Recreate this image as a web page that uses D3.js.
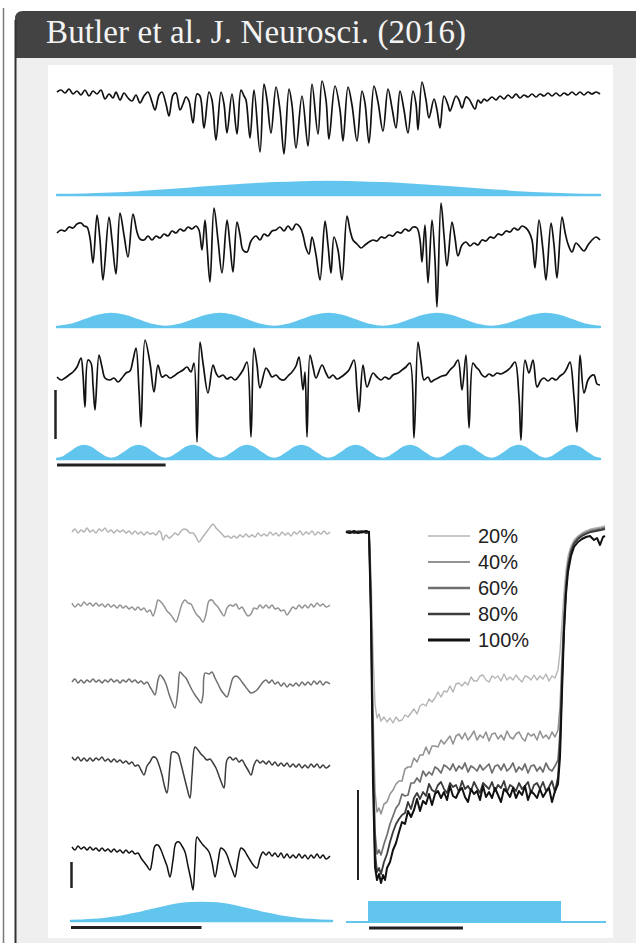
<!DOCTYPE html>
<html lang="en">
<head>
<meta charset="UTF-8">
<title>Butler et al. J. Neurosci. (2016)</title>
<script src="https://cdn.jsdelivr.net/npm/d3@7"></script>
<style>
  body { margin: 0; background: #fff; }
  svg { display: block; }
</style>
</head>
<body>
<div id="chart"></div>
<script>
// ---------- data ----------
// top rows: t in samples (54.3 per second, 10 s shown), v in units of 10 uV (up = positive)
const trace1 = [[0,3],[4,5],[8,2],[12,6],[16,1],[20,4],[24,0],[28,5],[32,-1],[36,4],[40,1],[44,5],[48,-4],[52,1],[56,-3],[59,3],[63,-5],[67,2],[71,-3],[75,-6],[79,0],[83,-8],[87,-1],[91,3],[95,-7],[98,-15],[102,0],[105,3],[109,-9],[112,-21],[116,0],[119,2],[123,-15],[126,-9],[129,-2],[132,-6],[136,-28],[140,1],[143,-1],[147,-33],[152,3],[155,-5],[159,-45],[164,3],[167,-9],[170,-38],[175,1],[180,-39],[184,5],[187,-1],[189,-5],[193,-43],[197,5],[203,-57],[207,11],[210,-5],[214,-38],[219,8],[223,-15],[227,-59],[232,6],[235,-10],[239,-53],[245,-1],[251,-51],[255,11],[261,-39],[265,14],[269,-5],[272,-44],[278,9],[283,-15],[286,-46],[291,8],[295,-10],[300,-46],[305,4],[308,-8],[312,-48],[317,9],[321,-7],[326,-36],[331,6],[335,-13],[339,-33],[343,4],[347,-15],[351,-38],[356,4],[359,-9],[361,-35],[365,13],[369,-5],[372,-23],[377,-4],[380,-15],[383,-33],[387,-1],[391,-10],[393,-16],[399,-1],[402,-5],[405,-13],[409,-2],[412,-4],[418,-14],[421,-5],[424,-8],[427,-4],[430,-6],[435,-2],[439,-5],[443,-1],[447,-4],[451,0],[455,-3],[459,1],[463,-3],[467,0],[471,-2],[475,1],[479,-2],[483,1],[487,-1],[491,2],[495,-1],[499,2],[503,-1],[507,2],[511,0],[515,3],[519,0],[523,3],[527,0],[531,3],[535,1],[539,3],[543,1]];

const trace2 = [[0,-1],[4,2],[8,1],[12,5],[16,4],[20,8],[24,9],[27,6],[30,5],[33,-6],[36,-31],[40,17],[43,-8],[46,-48],[52,15],[55,-8],[59,-42],[63,19],[67,-3],[71,-25],[76,18],[80,0],[83,-7],[87,-8],[91,-4],[95,-8],[99,-4],[103,-6],[107,-2],[111,-4],[115,1],[119,-1],[123,3],[127,1],[131,5],[135,3],[139,6],[142,2],[145,-18],[148,12],[150,-13],[153,-50],[157,24],[161,-8],[165,-41],[170,12],[173,-13],[176,-40],[180,10],[183,-3],[186,-18],[190,-20],[194,-9],[199,-4],[203,-8],[207,-2],[211,-4],[215,1],[219,2],[223,5],[227,1],[231,6],[235,2],[239,8],[243,5],[246,-3],[249,-16],[252,-22],[255,-5],[259,-23],[263,-48],[268,11],[271,-13],[274,-41],[277,-5],[281,-18],[285,-48],[290,16],[293,2],[296,-8],[300,-12],[304,-16],[308,-13],[312,-10],[316,-8],[320,-9],[324,-5],[328,-6],[332,-3],[336,-4],[340,0],[344,-1],[348,3],[352,1],[356,5],[360,4],[363,-8],[365,-30],[368,7],[371,-51],[375,12],[378,-28],[380,-75],[384,29],[387,-3],[390,-34],[395,10],[398,-6],[401,-24],[405,-13],[409,-10],[413,-14],[417,-11],[421,-13],[425,-8],[429,-9],[433,-5],[437,-6],[441,-2],[445,-3],[449,1],[453,0],[457,4],[461,2],[465,6],[469,4],[472,0],[475,-8],[478,-36],[482,12],[486,-18],[489,-48],[494,9],[497,-13],[500,-46],[505,15],[508,0],[511,-12],[515,-20],[519,-11],[523,-15],[527,-19],[531,-13],[535,-8],[539,-5],[543,-8]];

const trace3 = [[0,1],[4,-2],[8,0],[12,3],[16,6],[20,11],[24,20],[26,3],[28,-29],[31,18],[34,15],[36,-7],[38,-32],[42,23],[45,11],[48,0],[53,-2],[57,0],[61,-4],[65,0],[69,5],[73,7],[76,18],[79,30],[82,-12],[84,-49],[88,38],[93,15],[97,-14],[101,13],[105,1],[109,3],[113,0],[117,2],[121,5],[126,8],[130,11],[134,6],[137,15],[140,-64],[143,36],[146,15],[151,-15],[156,13],[159,5],[162,1],[166,3],[170,-1],[174,1],[178,-2],[182,2],[186,8],[190,16],[194,-59],[197,30],[200,13],[203,-10],[209,10],[212,6],[215,1],[219,3],[223,-1],[227,-2],[231,2],[235,6],[239,12],[242,21],[246,-12],[248,6],[250,-59],[253,23],[256,11],[259,0],[265,13],[269,5],[272,0],[276,3],[280,-1],[284,1],[288,4],[292,8],[297,18],[300,-12],[302,-34],[306,13],[310,-9],[316,5],[320,1],[324,-2],[328,1],[332,-1],[336,3],[341,5],[345,8],[349,11],[353,15],[357,-60],[361,36],[364,16],[367,-2],[371,1],[374,-4],[377,-2],[381,0],[385,2],[389,3],[393,8],[397,12],[401,18],[405,-12],[409,23],[412,-50],[416,15],[419,11],[422,8],[425,3],[428,1],[432,4],[436,2],[440,5],[444,4],[448,6],[451,8],[454,11],[458,16],[462,-19],[464,-62],[468,18],[472,5],[476,18],[480,-9],[484,-2],[487,0],[491,-3],[495,0],[499,-2],[503,2],[507,5],[510,10],[513,16],[517,-19],[520,-54],[523,23],[527,-15],[531,-2],[534,2],[537,3],[540,-6],[543,-7]];

// light intensity envelopes, % of max, evenly sampled over the 10 s
const env1 = [0, 2, 9, 20, 35, 50, 65, 79, 90, 97, 100, 97, 90, 79, 65, 50, 35, 20, 9, 2, 0];
const env2 = [0, 15, 50, 85, 100, 85, 50, 15, 0, 15, 50, 85, 100, 85, 50, 15, 0, 15, 50, 85, 100, 85, 50, 15,
              0, 15, 50, 85, 100, 85, 50, 15, 0, 15, 50, 85, 100, 85, 50, 15, 0];
const env3 = [0, 15, 50, 85, 100, 85, 50, 15, 0, 15, 50, 85, 100, 85, 50, 15, 0, 15, 50, 85, 100, 85, 50, 15,
              0, 15, 50, 85, 100, 85, 50, 15, 0, 15, 50, 85, 100, 85, 50, 15, 0, 15, 50, 85, 100, 85, 50, 15,
              0, 15, 50, 85, 100, 85, 50, 15, 0, 15, 50, 85, 100, 85, 50, 15, 0, 15, 50, 85, 100, 85, 50, 15,
              0, 15, 50, 85, 100, 85, 50, 15, 0];

// bottom left: field potentials at 20..100% light, t in samples (130.5 per s)
const lfp20 = [[1,0],[4,3],[7,-1],[10,2],[13,0],[16,4],[19,0],[22,2],[25,-1],[28,3],[31,1],[34,4],[37,0],[40,2],[43,-1],[46,2],[49,0],[52,2],[55,-1],[58,1],[61,-2],[64,1],[67,-2],[70,0],[73,-3],[76,0],[79,-2],[82,-1],[85,-3],[88,1],[90,-1],[92,-8],[95,-3],[98,-6],[101,-4],[104,-1],[107,-3],[110,1],[113,3],[116,2],[119,-1],[122,-1],[125,-5],[128,-10],[131,-6],[134,-2],[137,2],[140,6],[142,8],[145,4],[148,1],[151,-2],[154,-5],[157,-4],[160,-6],[163,-4],[166,-6],[169,-3],[172,-5],[175,-2],[178,-5],[181,-3],[184,-5],[187,-1],[190,-4],[193,-2],[196,-4],[199,0],[202,-3],[205,-1],[208,-4],[211,0],[214,-3],[217,-1],[220,-4],[223,0],[226,-2],[229,1],[232,-3],[235,0],[238,-2],[241,1],[244,-3],[247,0],[250,-2],[253,1],[256,-2],[259,0]];
const lfp40 = [[1,3],[4,-1],[7,2],[10,0],[13,4],[16,1],[19,3],[22,0],[25,3],[28,0],[31,2],[34,-1],[37,2],[40,-1],[43,1],[46,-2],[49,1],[52,-2],[55,0],[58,-3],[61,-1],[64,-4],[67,-1],[70,-4],[73,-2],[76,-6],[79,-4],[82,-10],[85,-1],[87,6],[90,4],[93,0],[96,-5],[99,-8],[102,-12],[105,-16],[108,-8],[111,2],[114,6],[117,3],[120,2],[123,-4],[126,-9],[129,-12],[132,-16],[135,-8],[138,5],[141,6],[144,2],[147,-1],[150,-6],[153,-10],[156,-2],[159,1],[162,0],[165,2],[168,-3],[171,-1],[174,-6],[177,-10],[180,-8],[183,-2],[186,-3],[189,1],[192,-2],[195,1],[198,-2],[201,1],[204,-3],[207,-2],[210,-5],[213,-4],[216,-9],[219,-5],[222,-1],[225,-3],[228,1],[231,-2],[234,1],[237,-2],[240,2],[243,-1],[246,3],[249,0],[252,2],[255,-1],[259,1]];
const lfp60 = [[1,0],[4,3],[7,-1],[10,2],[13,-1],[16,2],[19,0],[22,3],[25,0],[28,2],[31,-1],[34,2],[37,0],[40,3],[43,0],[46,2],[49,-1],[52,2],[55,0],[58,3],[61,0],[64,2],[67,-1],[70,1],[73,-2],[76,0],[79,-5],[82,-10],[84,-13],[87,2],[89,7],[92,4],[95,-2],[98,-12],[101,-20],[104,-26],[107,-8],[109,10],[112,7],[115,4],[118,-2],[121,-8],[124,-13],[127,-17],[130,-21],[132,-13],[134,9],[138,8],[141,10],[144,4],[147,-2],[150,-8],[153,-12],[156,-15],[159,-6],[162,4],[165,6],[168,4],[171,0],[174,-4],[177,-8],[180,-11],[183,-10],[186,-8],[189,-4],[192,0],[195,2],[198,-1],[201,2],[204,-2],[207,0],[210,-4],[213,-1],[216,-5],[219,-2],[222,-4],[225,-1],[228,-4],[231,0],[234,-3],[237,0],[240,-3],[243,1],[246,-2],[249,1],[252,-3],[255,0],[259,-2]];
const lfp80 = [[1,3],[4,0],[7,3],[10,-1],[13,2],[16,-1],[19,2],[22,-1],[25,2],[28,0],[31,3],[34,-1],[37,1],[40,-2],[43,1],[46,-2],[49,0],[52,-3],[55,-1],[58,-4],[61,-2],[64,-6],[67,-5],[70,-10],[73,-15],[76,-6],[79,-2],[82,3],[85,2],[88,-5],[91,-15],[94,-28],[96,-33],[99,-5],[101,8],[104,8],[107,6],[110,-4],[113,-16],[116,-28],[119,-38],[121,-15],[124,13],[127,10],[130,6],[133,3],[136,0],[139,1],[142,-3],[145,-8],[148,-16],[151,-24],[153,-28],[156,0],[159,3],[162,0],[165,2],[168,-2],[171,0],[174,-5],[177,-10],[180,-15],[183,-5],[186,0],[189,-3],[192,-1],[195,-4],[198,-1],[201,-5],[204,-2],[207,-6],[210,-3],[213,-6],[216,-3],[219,-7],[222,-4],[225,-7],[228,-4],[231,-8],[234,-5],[237,-8],[240,-4],[243,-7],[246,-4],[249,-8],[252,-5],[255,-8],[259,-5]];
const lfp100 = [[1,3],[4,0],[7,4],[10,1],[13,3],[16,0],[19,3],[22,0],[25,2],[28,-1],[31,2],[34,-1],[37,1],[40,-2],[43,1],[46,-2],[49,0],[52,-3],[55,0],[58,-3],[61,-1],[64,-4],[67,-3],[70,-8],[73,-12],[76,-16],[79,-20],[81,-12],[84,4],[87,5],[90,0],[93,-8],[96,-16],[99,-27],[102,-10],[105,7],[108,8],[111,4],[114,-2],[117,-16],[120,-30],[122,-40],[124,-12],[126,13],[129,9],[132,5],[135,2],[138,-2],[141,-12],[144,-27],[147,-12],[150,2],[153,0],[156,-5],[159,-14],[162,-22],[164,-27],[167,-10],[170,2],[173,0],[176,-5],[179,-10],[183,-16],[186,-18],[189,-8],[192,-2],[195,-5],[198,-2],[201,-6],[204,-3],[207,-7],[210,-3],[213,-8],[216,-4],[219,-8],[222,-5],[225,-8],[228,-4],[231,-8],[234,-5],[237,-9],[240,-5],[243,-8],[246,-4],[249,-8],[252,-5],[255,-9],[259,-6]];
const envRamp = [0, 2, 5, 10, 18, 28, 40, 54, 68, 82, 93, 99, 100, 99, 93, 82, 68, 54, 40, 28, 18, 10, 5, 2, 0];

// bottom right: photocurrents (inward = negative), t in samples (188 per s)
const cur20 = [[0,0],[4,1],[8,-1],[12,1],[16,0],[20,1],[23,0],[25,-40],[27,-120],[29,-172],[31,-186],[33,-182],[35,-189],[38,-185],[41,-190],[44,-186],[47,-191],[50,-185],[53,-189],[56,-188],[59,-183],[62,-185],[65,-181],[68,-177],[71,-182],[74,-174],[77,-172],[80,-174],[83,-167],[86,-170],[89,-166],[92,-160],[95,-165],[98,-159],[101,-160],[104,-154],[107,-160],[110,-152],[113,-151],[116,-154],[119,-150],[122,-153],[125,-145],[128,-149],[131,-149],[134,-144],[137,-143],[140,-148],[143,-150],[146,-144],[149,-146],[152,-144],[155,-149],[158,-142],[161,-148],[164,-145],[167,-148],[170,-143],[173,-147],[176,-150],[179,-144],[182,-145],[185,-148],[188,-143],[191,-148],[194,-144],[197,-147],[200,-142],[203,-149],[206,-144],[209,-146],[212,-138],[214,-120],[216,-90],[218,-60],[220,-38],[222,-24],[225,-14],[228,-8],[232,-4],[236,-1],[240,1],[245,3],[250,4],[255,5],[259,6]];
const cur40 = [[0,0],[4,-1],[8,1],[12,0],[16,-1],[20,1],[23,0],[25,-60],[27,-180],[29,-260],[31,-280],[33,-276],[35,-282],[38,-272],[41,-270],[44,-262],[47,-258],[50,-252],[53,-249],[56,-249],[59,-237],[62,-235],[65,-235],[68,-226],[71,-230],[74,-223],[77,-223],[80,-215],[83,-222],[86,-214],[89,-214],[92,-215],[95,-208],[98,-212],[101,-208],[104,-204],[107,-212],[110,-204],[113,-202],[116,-207],[119,-201],[122,-208],[125,-204],[128,-199],[131,-208],[134,-203],[137,-206],[140,-200],[143,-209],[146,-202],[149,-201],[152,-207],[155,-203],[158,-208],[161,-199],[164,-205],[167,-207],[170,-202],[173,-200],[176,-206],[179,-209],[182,-201],[185,-204],[188,-202],[191,-208],[194,-199],[197,-206],[200,-203],[203,-207],[206,-200],[209,-205],[212,-198],[214,-175],[216,-125],[218,-80],[220,-48],[222,-30],[225,-17],[228,-10],[232,-5],[236,-2],[240,0],[245,2],[250,3],[255,4],[259,5]];
const cur60 = [[0,1],[4,0],[8,-1],[12,1],[16,0],[20,-1],[23,0],[25,-70],[27,-210],[29,-300],[31,-322],[33,-318],[35,-323],[38,-312],[41,-303],[44,-292],[47,-284],[50,-276],[53,-272],[56,-262],[59,-264],[62,-263],[65,-251],[68,-251],[71,-246],[74,-250],[77,-239],[80,-244],[83,-240],[86,-243],[89,-235],[92,-237],[95,-241],[98,-233],[101,-235],[104,-238],[107,-232],[110,-239],[113,-234],[116,-237],[119,-231],[122,-240],[125,-234],[128,-236],[131,-239],[134,-233],[137,-238],[140,-235],[143,-232],[146,-241],[149,-234],[152,-233],[155,-238],[158,-232],[161,-239],[164,-236],[167,-231],[170,-240],[173,-235],[176,-238],[179,-232],[182,-241],[185,-234],[188,-233],[191,-239],[194,-235],[197,-240],[200,-231],[203,-237],[206,-239],[209,-234],[212,-228],[214,-200],[216,-140],[218,-88],[220,-52],[222,-32],[225,-18],[228,-11],[232,-6],[236,-3],[240,-1],[245,1],[250,2],[255,3],[259,4]];
const cur80 = [[0,0],[4,1],[8,-1],[12,0],[16,1],[20,-1],[23,0],[25,-80],[27,-230],[29,-320],[31,-340],[33,-336],[35,-342],[38,-330],[41,-322],[44,-310],[47,-300],[50,-292],[53,-287],[56,-283],[59,-281],[62,-270],[65,-277],[68,-266],[71,-261],[74,-267],[77,-260],[80,-264],[83,-252],[86,-258],[89,-260],[92,-253],[95,-250],[98,-257],[101,-261],[104,-251],[107,-255],[110,-253],[113,-260],[116,-249],[119,-257],[122,-254],[125,-259],[128,-250],[131,-256],[134,-261],[137,-251],[140,-254],[143,-257],[146,-250],[149,-259],[152,-253],[155,-256],[158,-249],[161,-260],[164,-253],[167,-255],[170,-259],[173,-251],[176,-257],[179,-254],[182,-250],[185,-261],[188,-253],[191,-251],[194,-257],[197,-250],[200,-259],[203,-255],[206,-249],[209,-260],[212,-245],[214,-215],[216,-150],[218,-95],[220,-56],[222,-35],[225,-20],[228,-12],[232,-7],[236,-4],[240,-2],[245,0],[250,1],[255,2],[259,3]];
const cur100 = [[0,0],[4,-1],[8,1],[12,-1],[16,0],[20,1],[23,0],[25,-90],[27,-250],[29,-335],[31,-348],[33,-342],[35,-351],[37,-343],[39,-348],[41,-336],[44,-330],[47,-318],[50,-311],[53,-300],[56,-290],[59,-292],[62,-279],[65,-285],[68,-278],[71,-267],[74,-279],[77,-269],[80,-272],[83,-262],[86,-273],[89,-262],[92,-259],[95,-266],[98,-260],[101,-268],[104,-254],[107,-264],[110,-266],[113,-259],[116,-256],[119,-265],[122,-270],[125,-257],[128,-262],[131,-259],[134,-268],[137,-254],[140,-265],[143,-260],[146,-266],[149,-256],[152,-263],[155,-270],[158,-257],[161,-260],[164,-265],[167,-256],[170,-266],[173,-259],[176,-263],[179,-254],[182,-268],[185,-259],[188,-262],[191,-266],[194,-257],[197,-265],[200,-260],[203,-256],[206,-270],[209,-259],[212,-252],[214,-225],[216,-160],[218,-100],[220,-62],[222,-40],[225,-24],[228,-15],[232,-10],[236,-7],[240,-5],[244,-4],[248,-8],[251,-6],[254,-13],[257,-5],[259,-4]];
const lightStep = [[0,0],[23,0],[23,100],[214,100],[214,0],[260,0]];

const levels = ["20%", "40%", "60%", "80%", "100%"];
const grays = ["#b4b4b4", "#939393", "#6e6e6e", "#3c3c3c", "#111111"];

// ---------- drawing ----------
const W = 636, H = 943;
const blue = "#62c5ee";

const svg = d3.select("#chart").append("svg")
  .attr("width", W).attr("height", H);

// frame
svg.append("rect").attr("x", 0).attr("y", 0).attr("width", W).attr("height", H).attr("fill", "#fff");
svg.append("line").attr("x1", 3.5).attr("x2", 3.5).attr("y1", 8).attr("y2", H)
  .attr("stroke", "#7a7a7a").attr("stroke-width", 1.5);
svg.append("rect").attr("x", 16).attr("y", 56).attr("width", W - 16).attr("height", H - 56).attr("fill", "#efefef");
svg.append("path").attr("d", "M15,58 L15,19 Q15,11 23,11 L636,11 L636,58 Z").attr("fill", "#434343");
svg.append("line").attr("x1", 15.5).attr("x2", 15.5).attr("y1", 20).attr("y2", H)
  .attr("stroke", "#333").attr("stroke-width", 2);
svg.append("rect").attr("x", 48).attr("y", 65).attr("width", 565).attr("height", 873).attr("fill", "#fff");

svg.append("text")
  .attr("x", 46).attr("y", 43)
  .attr("font-family", "'Liberation Serif', 'DejaVu Serif', serif")
  .attr("font-size", 33)
  .attr("textLength", 420).attr("lengthAdjust", "spacing")
  .attr("fill", "#f4f4f4")
  .text("Butler et al. J. Neurosci. (2016)");

// voltage traces look smooth at the spikes, currents are drawn point to point
const smooth = d3.curveCatmullRom.alpha(0.5);

// --- top: three rows of trace + light envelope ---
const xTop = d3.scaleLinear().domain([0, 543]).range([57, 600]);
const topRows = [
  { trace: trace1, base: 95, env: env1, envBase: 195 },
  { trace: trace2, base: 232, env: env2, envBase: 327 },
  { trace: trace3, base: 378, env: env3, envBase: 459 }
];

function drawEnv(g, values, x, span, envBase, h) {
  const y = d3.scaleLinear().domain([0, 100]).range([envBase, envBase - h]);
  const step = span / (values.length - 1);
  const area = d3.area()
    .x((d, i) => x(i * step))
    .y0(envBase)
    .y1(d => y(d))
    .curve(d3.curveMonotoneX);
  g.append("path").attr("d", area(values))
    .attr("fill", blue).attr("stroke", blue).attr("stroke-width", 2.5)
    .attr("stroke-linejoin", "round");
}

topRows.forEach(r => {
  const y = d3.scaleLinear().domain([0, 100]).range([r.base, r.base - 100]);
  const line = d3.line().x(d => xTop(d[0])).y(d => y(d[1])).curve(smooth);
  svg.append("path").attr("d", line(r.trace))
    .attr("fill", "none").attr("stroke", "#111").attr("stroke-width", 1.7)
    .attr("stroke-linejoin", "round");
  drawEnv(svg, r.env, xTop, 543, r.envBase, 13);
});

// scale bars (top)
const fsTop = 54.3;
svg.append("line").attr("x1", 55.5).attr("x2", 55.5).attr("y1", 390).attr("y2", 439)
  .attr("stroke", "#222").attr("stroke-width", 2.5);
svg.append("line").attr("x1", xTop(0)).attr("x2", xTop(2 * fsTop)).attr("y1", 465).attr("y2", 465)
  .attr("stroke", "#222").attr("stroke-width", 3);

// --- bottom left: LFP at increasing intensity ---
const xBL = d3.scaleLinear().domain([0, 261]).range([71, 332]);
const lfps = [lfp20, lfp40, lfp60, lfp80, lfp100];
const lfpBase = [532, 606, 682, 760, 850];
lfps.forEach((tr, i) => {
  const y = d3.scaleLinear().domain([0, 100]).range([lfpBase[i], lfpBase[i] - 100]);
  const line = d3.line().x(d => xBL(d[0])).y(d => y(d[1])).curve(smooth);
  svg.append("path").attr("d", line(tr))
    .attr("fill", "none").attr("stroke", grays[i]).attr("stroke-width", 1.5)
    .attr("stroke-linejoin", "round");
});
drawEnv(svg, envRamp, xBL, 261, 921, 18);
svg.append("line").attr("x1", 71.5).attr("x2", 71.5).attr("y1", 862).attr("y2", 888)
  .attr("stroke", "#222").attr("stroke-width", 2.5);
svg.append("line").attr("x1", xBL(0)).attr("x2", xBL(130.5)).attr("y1", 927.5).attr("y2", 927.5)
  .attr("stroke", "#222").attr("stroke-width", 3);

// --- bottom right: photocurrents ---
const xBR = d3.scaleLinear().domain([0, 260]).range([346, 606]);
const yBR = d3.scaleLinear().domain([-400, 0]).range([932, 532]);
const currents = [cur20, cur40, cur60, cur80, cur100];
const curLine = d3.line().x(d => xBR(d[0])).y(d => yBR(d[1])).curve(d3.curveLinear);
currents.forEach((tr, i) => {
  svg.append("path").attr("d", curLine(tr))
    .attr("fill", "none").attr("stroke", grays[i]).attr("stroke-width", 1.4 + i * 0.15)
    .attr("stroke-linejoin", "round");
});

// light step
const yStep = d3.scaleLinear().domain([0, 100]).range([922, 902]);
svg.append("path")
  .attr("d", d3.area().x(d => xBR(d[0])).y0(922).y1(d => yStep(d[1]))(lightStep))
  .attr("fill", blue).attr("stroke", blue).attr("stroke-width", 2);

svg.append("line").attr("x1", 358).attr("x2", 358).attr("y1", 790).attr("y2", 880)
  .attr("stroke", "#222").attr("stroke-width", 2);
svg.append("line").attr("x1", xBR(23)).attr("x2", xBR(117)).attr("y1", 928).attr("y2", 928)
  .attr("stroke", "#222").attr("stroke-width", 3);

// legend
const legend = svg.append("g");
levels.forEach((lab, i) => {
  const ly = 536 + i * 26;
  legend.append("line").attr("x1", 428).attr("x2", 470).attr("y1", ly).attr("y2", ly)
    .attr("stroke", grays[i]).attr("stroke-width", 1.6 + i * 0.35);
  legend.append("text").attr("x", 478).attr("y", ly + 7)
    .attr("font-family", "'Liberation Sans', Arial, sans-serif")
    .attr("font-size", 20).attr("fill", "#222")
    .text(lab);
});
</script>
</body>
</html>
